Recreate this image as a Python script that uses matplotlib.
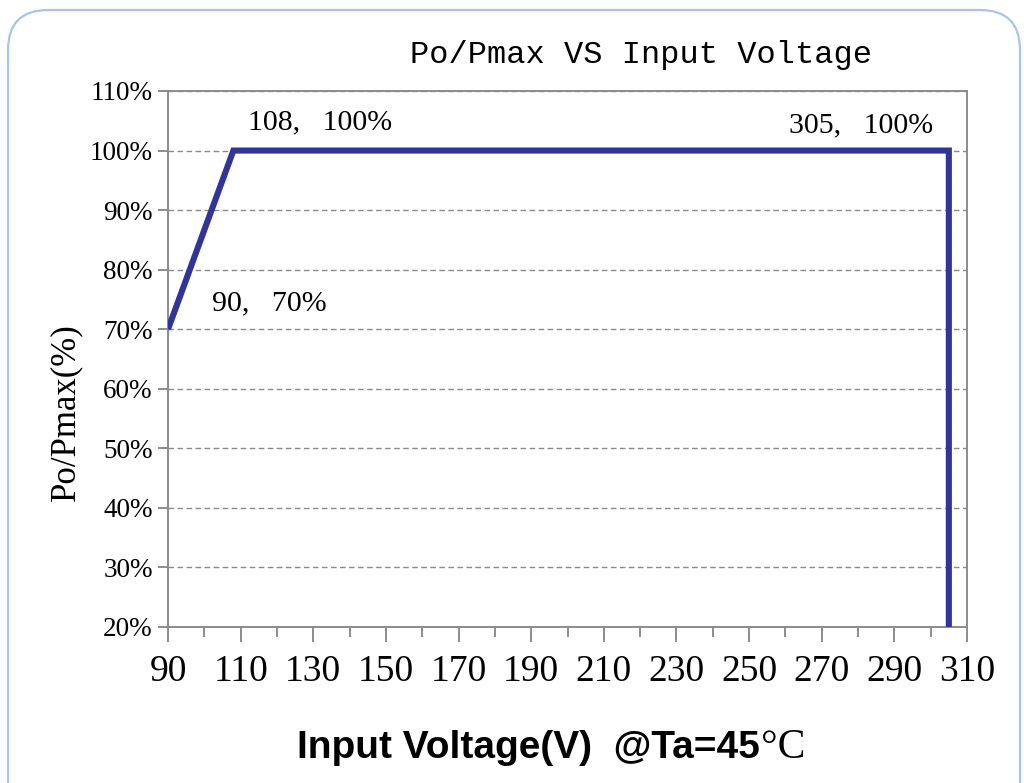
import matplotlib
matplotlib.use("Agg")
import matplotlib.pyplot as plt
from matplotlib.patches import FancyBboxPatch
from matplotlib.ticker import MultipleLocator, FuncFormatter

# derating curve
volt = [90, 108, 305, 305]
load = [70, 100, 100, 20]

# corner annotations (text, x, y)
notes = [("108,   100%", 112, 104.8, "left"),
         ("305,   100%", 300.6, 104.3, "right"),
         ("90,   70%", 102, 74.4, "left")]

x_ticks = list(range(90, 311, 20))
y_ticks = list(range(20, 111, 10))

serif = "Liberation Serif"

fig = plt.figure(figsize=(10.24, 7.83), dpi=100)
ax = fig.add_axes([168 / 1024, 1 - 627 / 783, (967 - 168) / 1024, (627 - 91) / 783])

# rounded outer frame
frame = FancyBboxPatch((0.08, -0.6), 10.12, 8.33, boxstyle="round,pad=0,rounding_size=0.4",
                       transform=fig.dpi_scale_trans, facecolor="white",
                       edgecolor="#A9C4EA", linewidth=1.6, zorder=-10)
fig.patches.append(frame)

ax.plot(volt, load, color="#32349A", linewidth=4.4, solid_joinstyle="miter",
        solid_capstyle="butt", zorder=3)

ax.set_xlim(90, 310)
ax.set_ylim(20, 110)
ax.set_xticks(x_ticks)
ax.xaxis.set_minor_locator(MultipleLocator(10))
ax.set_yticks(y_ticks)
ax.yaxis.set_major_formatter(FuncFormatter(lambda v, p: f"{v:.0f}%"))

ax.grid(axis="y", linestyle=(0, (4, 2.5)), color="#8A8A8A", linewidth=1.0)
for s in ax.spines.values():
    s.set_color("#8C8C8C")
    s.set_linewidth(1.4)

ax.tick_params(axis="x", which="major", direction="out", length=11, width=1.4,
               color="#8C8C8C", pad=9)
ax.tick_params(axis="x", which="minor", direction="out", length=7, width=1.4,
               color="#8C8C8C")
ax.tick_params(axis="y", direction="out", length=7, width=1.4, color="#8C8C8C", pad=4)
for lab in ax.get_xticklabels():
    lab.set_fontfamily(serif)
    lab.set_fontsize(27)
for lab in ax.get_yticklabels():
    lab.set_fontfamily(serif)
    lab.set_fontsize(19.5)

for txt, x, y, ha in notes:
    ax.text(x, y, txt, ha=ha, va="center", fontsize=21.5, family=serif)

fig.text(641 / 1024, 1 - 55 / 783, "Po/Pmax VS Input Voltage", ha="center", va="center",
         fontsize=23, family="Liberation Mono")
fig.text(66 / 1024, 1 - 412 / 783, "Po/Pmax(%)", rotation=90, ha="center", va="center",
         fontsize=25, family=serif)

xl = fig.text(297 / 1024, 1 - 748 / 783, "Input Voltage(V)  @Ta=45", ha="left", va="center",
              fontsize=28, family="Liberation Sans", fontweight="bold")
fig.canvas.draw()
bb = xl.get_window_extent()
fig.text((bb.x1 + 1) / 1024, 1 - 748 / 783, "\u00b0C", ha="left", va="center",
         fontsize=30, family=serif)

fig.savefig("out.png", dpi=100)
